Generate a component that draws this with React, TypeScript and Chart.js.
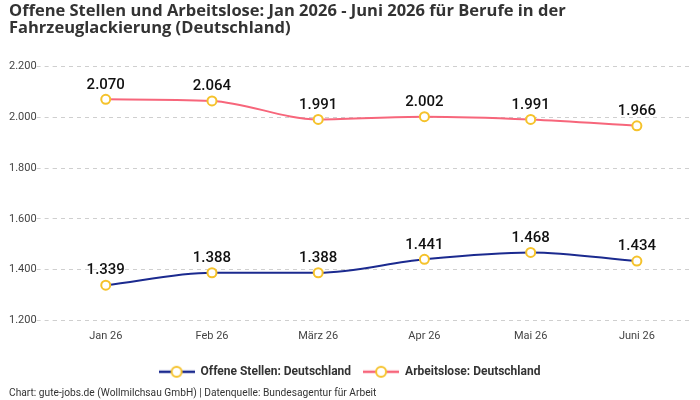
import React, { useEffect, useRef } from "react";
import { Chart, registerables } from "chart.js";

Chart.register(...registerables);

const categories = ["Jan 26", "Feb 26", "März 26", "Apr 26", "Mai 26", "Juni 26"];
const offeneStellen = [1339, 1388, 1388, 1441, 1468, 1434];
const arbeitslose = [2070, 2064, 1991, 2002, 1991, 1966];
const yTicks = [1200, 1400, 1600, 1800, 2000, 2200];

const FONT = "Roboto, 'Noto Sans', sans-serif";
const TITLE_FONT = "'Open Sans', Roboto, sans-serif";
const BLUE = "#1b2a8f";
const PINK = "#f7667b";
const MARKER = "#f5c22b";

const fmt = (v: number) => v.toLocaleString("de-DE");

function legendIcon(color: string) {
  const c = document.createElement("canvas");
  c.width = 36;
  c.height = 14;
  const ctx = c.getContext("2d")!;
  ctx.strokeStyle = color;
  ctx.lineWidth = 2.5;
  ctx.beginPath();
  ctx.moveTo(0, 7);
  ctx.lineTo(36, 7);
  ctx.stroke();
  ctx.beginPath();
  ctx.arc(18, 7, 5, 0, Math.PI * 2);
  ctx.fillStyle = "#fff";
  ctx.fill();
  ctx.strokeStyle = MARKER;
  ctx.lineWidth = 2;
  ctx.stroke();
  return c;
}

const valueLabels = {
  id: "valueLabels",
  afterDatasetsDraw(chart: any) {
    const ctx = chart.ctx;
    ctx.save();
    ctx.font = `500 15px ${FONT}`;
    ctx.fillStyle = "#111";
    ctx.textAlign = "center";
    ctx.textBaseline = "bottom";
    chart.data.datasets.forEach((ds: any, i: number) => {
      const meta = chart.getDatasetMeta(i);
      meta.data.forEach((pt: any, j: number) => {
        ctx.fillText(fmt(ds.data[j]), pt.x, pt.y - 7);
      });
    });
    ctx.restore();
  },
};

export default function App() {
  const ref = useRef<HTMLCanvasElement>(null);
  useEffect(() => {
    document.body.style.margin = "0";
    const icons = [legendIcon(BLUE), legendIcon(PINK)];
    const common = {
      backgroundColor: "#fff",
      borderWidth: 2,
      pointBackgroundColor: "#fff",
      pointBorderColor: MARKER,
      pointBorderWidth: 2,
      pointRadius: 4.5,
      cubicInterpolationMode: "monotone",
    };
    const chart = new Chart(ref.current!, {
      type: "line",
      data: {
        labels: categories,
        datasets: [
          { label: "Offene Stellen: Deutschland", data: offeneStellen, borderColor: BLUE, ...common },
          { label: "Arbeitslose: Deutschland", data: arbeitslose, borderColor: PINK, ...common },
        ] as any,
      },
      options: {
        animation: false,
        responsive: false,
        layout: { padding: { left: 9, right: 10, top: 0, bottom: 0 } },
        scales: {
          x: {
            offset: true,
            grid: { display: false },
            border: { display: false },
            ticks: { color: "#444", font: { family: FONT, size: 11 }, padding: 1 },
            afterFit: (axis: any) => {
              axis.height += 10;
            },
          },
          y: {
            min: 1200,
            max: 2200,
            afterBuildTicks: (axis: any) => {
              axis.ticks = yTicks.map((v) => ({ value: v }));
            },
            grid: {
              color: "#cfcfcf",
              tickLength: 16,
              drawTicks: true,
              borderDash: [4, 4],
              tickBorderDash: [4, 4],
            },
            border: { display: false, dash: [4, 4] },
            ticks: {
              color: "#444",
              font: { family: FONT, size: 11 },
              padding: 0,
              callback: (v: any) => fmt(Number(v)),
            },
          } as any,
        },
        plugins: {
          title: {
            display: true,
            text: [
              "Offene Stellen und Arbeitslose: Jan 2026 - Juni 2026 für Berufe in der",
              "Fahrzeuglackierung (Deutschland)",
            ],
            align: "start",
            color: "#333",
            font: { family: TITLE_FONT, size: 16.5, weight: "bold", lineHeight: 1.07 },
            padding: { top: 2, bottom: 29 },
          },
          subtitle: {
            display: true,
            position: "bottom",
            align: "start",
            text: "Chart: gute-jobs.de (Wollmilchsau GmbH) | Datenquelle: Bundesagentur für Arbeit",
            color: "#333",
            font: { family: FONT, size: 10.2 },
            padding: { top: 0, bottom: 0 },
          },
          legend: {
            position: "bottom",
            labels: {
              usePointStyle: true,
              pointStyleWidth: 36,
              color: "#333",
              font: { family: FONT, size: 12, weight: "bold" },
              padding: 12,
              generateLabels: (ch: any) =>
                ch.data.datasets.map((ds: any, i: number) => ({
                  text: ds.label,
                  pointStyle: icons[i],
                  fillStyle: "#fff",
                  strokeStyle: ds.borderColor,
                  lineWidth: 0,
                  hidden: false,
                  datasetIndex: i,
                  fontColor: "#333",
                })),
            },
          },
          tooltip: { enabled: false },
        },
      },
      plugins: [valueLabels],
    });
    return () => chart.destroy();
  }, []);
  return <canvas ref={ref} width={700} height={400} style={{ display: "block" }} />;
}
